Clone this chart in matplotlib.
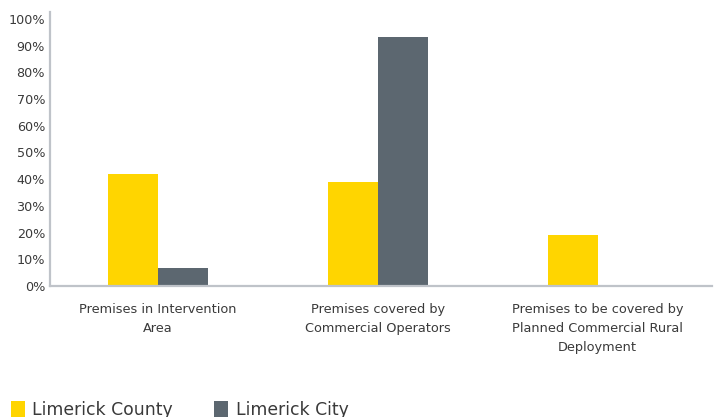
import matplotlib
matplotlib.use("Agg")
import matplotlib.pyplot as plt
import numpy as np
from matplotlib.patches import Patch

categories = [
    "Premises in Intervention\nArea",
    "Premises covered by\nCommercial Operators",
    "Premises to be covered by\nPlanned Commercial Rural\nDeployment",
]
county = [41.8, 39.1, 19.1]
city = [6.6, 93.1, 0.0]
series_names = ["Limerick County", "Limerick City"]
yticks = [0, 10, 20, 30, 40, 50, 60, 70, 80, 90, 100]

plt.rcParams["font.family"] = ["DejaVu Sans"]

yellow = "#FFD500"
slate = "#5C6770"
text_col = "#3a3a3a"
axis_col = "#BFC3C9"

W, H = 718, 417
fig = plt.figure(figsize=(W / 100, H / 100), dpi=100)
ax = fig.add_axes([50 / W, 1 - 286 / H, (712 - 50) / W, (286 - 12) / H])

x = np.arange(len(categories))
bw = 0.227
ax.bar(x - bw / 2, county, bw, color=yellow, linewidth=0)
ax.bar(x + bw / 2, city, bw, color=slate, linewidth=0)

ax.set_xlim(-0.49, 2.52)
ax.set_ylim(0, 102.6)
ax.set_yticks(yticks)
ax.set_yticklabels([f"{v}%" for v in yticks], fontsize=9.2, color=text_col)
ax.set_xticks(x)
ax.set_xticklabels(categories, fontsize=9.3, color=text_col, linespacing=1.6, va="top")
ax.tick_params(axis="both", length=0)
ax.tick_params(axis="x", pad=12)
ax.tick_params(axis="y", pad=3.6)

for s in ["top", "right"]:
    ax.spines[s].set_visible(False)
for s in ["left", "bottom"]:
    ax.spines[s].set_color(axis_col)
    ax.spines[s].set_linewidth(1.6)

handles = [Patch(facecolor=yellow, edgecolor="none"), Patch(facecolor=slate, edgecolor="none")]
fig.legend(handles, series_names, loc="lower left", bbox_to_anchor=(0.0008, -0.03),
           ncol=2, frameon=False, fontsize=12.4, handlelength=0.8, handleheight=1.05,
           handletextpad=0.45, columnspacing=2.38, labelcolor=text_col, borderaxespad=0.2)

fig.savefig("out.png", dpi=100, facecolor="white")
